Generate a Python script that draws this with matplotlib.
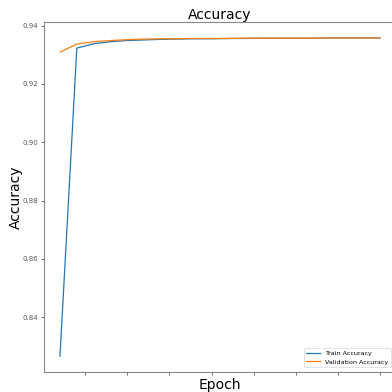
import numpy as np
import matplotlib
matplotlib.use("Agg")
import matplotlib.pyplot as plt

# === Data ===
epochs = np.arange(1, 21)
train_acc = [0.8267, 0.9323, 0.9338, 0.9345, 0.9349, 0.9351, 0.9353, 0.9354, 0.9355, 0.9355,
             0.9356, 0.9356, 0.9357, 0.9357, 0.9357, 0.9357, 0.9358, 0.9358, 0.9358, 0.9358]
val_acc = [0.9309, 0.9337, 0.9345, 0.9349, 0.9352, 0.9354, 0.9355, 0.9355, 0.9356, 0.9356,
           0.9356, 0.9357, 0.9357, 0.9357, 0.9357, 0.9357, 0.9358, 0.9358, 0.9358, 0.9358]
x_ticks = [2.5, 5, 7.5, 10, 12.5, 15, 17.5, 20]

# === Plot ===
fig = plt.figure(figsize=(3.92, 3.92), dpi=100)
ax = fig.add_axes([0.1122, 0.051, 0.898, 0.8929])

ax.plot(epochs, train_acc, color="#1f77b4", lw=0.9, label="Train Accuracy")
ax.plot(epochs, val_acc, color="#ff7f0e", lw=0.9, label="Validation Accuracy")

ax.set_title("Accuracy", fontsize=10, pad=2)
ax.set_xlabel("Epoch", fontsize=10, labelpad=0)
ax.set_ylabel("Accuracy", fontsize=10, labelpad=0)

ax.set_xticks(x_ticks)
ax.set_xticklabels([])
ax.set_yticks([0.84, 0.86, 0.88, 0.90, 0.92, 0.94])
ax.set_yticklabels(["0.84", "0.86", "0.88", "0.90", "0.92", "0.94"])
ax.tick_params(labelsize=5, length=2, width=0.6, colors="#555555", pad=2)

for s in ax.spines.values():
    s.set_color("#888888")
    s.set_linewidth(0.8)

leg = ax.legend(loc="lower right", fontsize=4.6, bbox_to_anchor=(0.995, 0.005),
                handlelength=2.2, framealpha=1)
leg.get_frame().set_linewidth(0.4)

fig.savefig("out.png", dpi=100)
